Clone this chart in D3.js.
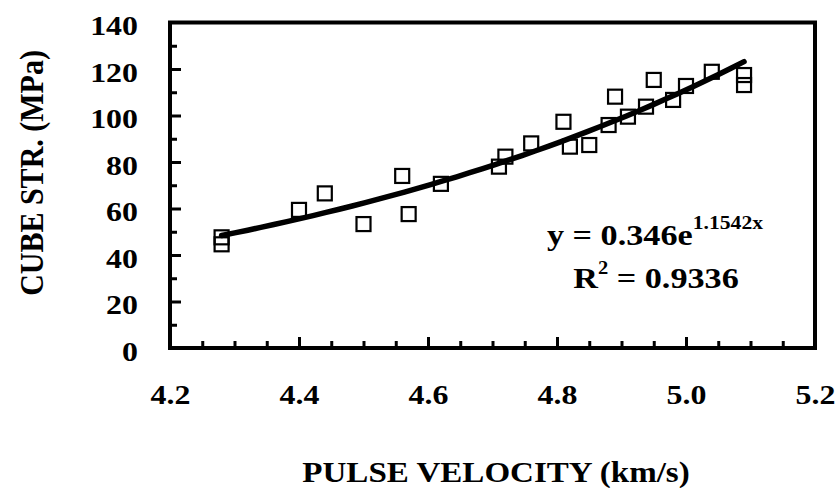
<!DOCTYPE html>
<html>
<head>
<meta charset="utf-8">
<script src="https://cdn.jsdelivr.net/npm/d3@7"></script>
<style>
  body { margin: 0; background: #fff; }
  text { font-family: "Liberation Serif", "Times New Roman", serif; font-weight: bold; fill: #000; }
</style>
</head>
<body>
<div id="container"></div>
<script>
// pulse velocity (km/s) vs cube strength (MPa)
var velocity = [4.28, 4.28, 4.40, 4.44, 4.50, 4.56, 4.57, 4.62, 4.71, 4.72, 4.76, 4.81,
                4.82, 4.85, 4.88, 4.89, 4.91, 4.938, 4.95, 4.98, 5.00, 5.04, 5.09, 5.09];
var strength = [47.6, 44.6, 59.4, 66.5, 53.3, 74.0, 57.6, 70.6, 78.0, 82.3, 88.0, 97.3,
                86.6, 87.3, 95.9, 108.1, 99.5, 103.8, 115.3, 106.7, 112.7, 118.8, 117.4, 113.1];

var xMajor = [4.2, 4.4, 4.6, 4.8, 5.0, 5.2];
var xMinor = [4.25, 4.3, 4.35, 4.45, 4.5, 4.55, 4.65, 4.7, 4.75, 4.85, 4.9, 4.95, 5.05, 5.1, 5.15];
var yMajor = [0, 20, 40, 60, 80, 100, 120, 140];
var yMinor = [10, 30, 50, 70, 90, 110, 130];

// exponential trendline y = a * e^(b x)
var trendA = 0.346;
var trendB = 1.1542;

const W = 840, H = 488;
var margin = {top: 22.5, right: 25, bottom: 140, left: 170};
const width = W - margin.left - margin.right;
const height = H - margin.top - margin.bottom;
const SX = 1.14; // figure text is stretched horizontally

const x = d3.scaleLinear().domain([4.2, 5.2]).range([0, width]);
const y = d3.scaleLinear().domain([0, 140]).range([height, 0]);

const svg = d3.select("#container")
    .append("svg")
        .attr("width", W)
        .attr("height", H)
    .append("g")
        .attr("transform", "translate(" + margin.left + "," + margin.top + ")");

// minor ticks
svg.append("g")
    .attr("transform", "translate(0," + height + ")")
    .call(d3.axisBottom(x).tickValues(xMinor).tickSize(-7).tickFormat(""));
svg.append("g")
    .call(d3.axisLeft(y).tickValues(yMinor).tickSize(-7).tickFormat(""));

// major ticks with labels
var xAxis = svg.append("g")
    .attr("transform", "translate(0," + height + ")")
    .call(d3.axisBottom(x).tickValues(xMajor).tickSize(-11).tickFormat(d3.format(".1f")));
xAxis.selectAll("text")
    .attr("y", 0).attr("dy", 0)
    .attr("transform", "translate(0,56) scale(" + SX + ",1)")
    .style("font-size", "28px");

var yAxis = svg.append("g")
    .call(d3.axisLeft(y).tickValues(yMajor).tickSize(-11));
yAxis.selectAll("text")
    .attr("x", 0).attr("dy", 0)
    .attr("transform", "translate(-32,12) scale(" + SX + ",1)")
    .style("font-size", "28px");

svg.selectAll(".domain").remove();
svg.selectAll(".tick line").attr("stroke", "#000").attr("stroke-width", 3);
svg.selectAll(".tick").filter(d => d === 4.2 || d === 5.2 || d === 0 || d === 140)
    .select("line").remove();

// frame
svg.append("rect")
    .attr("x", x(4.2))
    .attr("y", y(140))
    .attr("width", x(5.2) - x(4.2))
    .attr("height", y(0) - y(140))
    .attr("fill", "none")
    .attr("stroke", "#000")
    .attr("stroke-width", 4);

// points
var points = velocity.map((v, i) => ({v: v, s: strength[i]}));
const sq = 14;
svg.append("g")
    .selectAll("rect")
    .data(points)
    .join("rect")
    .attr("x", d => x(d.v) - sq / 2)
    .attr("y", d => y(d.s) - sq / 2)
    .attr("width", sq)
    .attr("height", sq)
    .attr("fill", "none")
    .attr("stroke", "#000")
    .attr("stroke-width", 2.2);

// trendline over the data range
var xs = d3.extent(velocity);
var trend = d3.range(0, 41).map(i => {
    var v = xs[0] + (xs[1] - xs[0]) * i / 40;
    return {v: v, s: trendA * Math.exp(trendB * v)};
});
svg.append("path")
    .datum(trend)
    .attr("fill", "none")
    .attr("stroke", "#000")
    .attr("stroke-width", 5.5)
    .attr("stroke-linecap", "round")
    .attr("d", d3.line().x(d => x(d.v)).y(d => y(d.s)));

// equation
var eq1 = svg.append("text")
    .attr("transform", "translate(" + (655 - margin.left) + "," + (245 - margin.top) + ") scale(" + SX + ",1)")
    .attr("text-anchor", "middle")
    .style("font-size", "30px");
eq1.append("tspan").text("y = " + trendA + "e");
eq1.append("tspan").attr("dy", -16).style("font-size", "19px").text(trendB + "x");

var eq2 = svg.append("text")
    .attr("transform", "translate(" + (656 - margin.left) + "," + (288 - margin.top) + ") scale(" + SX + ",1)")
    .attr("text-anchor", "middle")
    .style("font-size", "30px");
eq2.append("tspan").text("R");
eq2.append("tspan").attr("dy", -14).style("font-size", "18px").text("2");
eq2.append("tspan").attr("dy", 14).text(" = 0.9336");

// axis titles
svg.append("text")
    .attr("transform", "translate(" + (496 - margin.left) + "," + (482 - margin.top) + ") scale(" + SX + ",1)")
    .attr("text-anchor", "middle")
    .style("font-size", "29px")
    .text("PULSE VELOCITY (km/s)");

svg.append("text")
    .attr("transform", "translate(" + (43 - margin.left) + "," + (173 - margin.top) + ") scale(" + SX + ",1) rotate(-90)")
    .attr("text-anchor", "middle")
    .style("font-size", "30px")
    .text("CUBE STR. (MPa)");
</script>
</body>
</html>
